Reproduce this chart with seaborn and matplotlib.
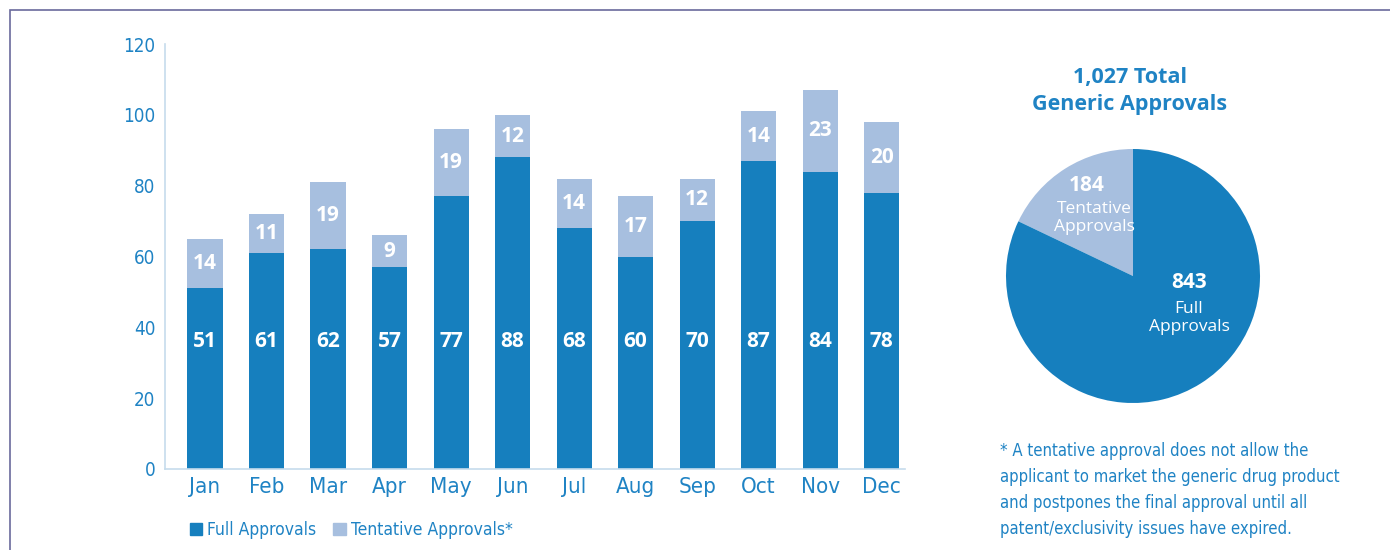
import matplotlib
matplotlib.use('Agg')
import matplotlib.pyplot as plt
import seaborn as sns
import pandas as pd
from matplotlib.patches import Patch, Rectangle

months = ['Jan', 'Feb', 'Mar', 'Apr', 'May', 'Jun', 'Jul', 'Aug', 'Sep', 'Oct', 'Nov', 'Dec']
full = [51, 61, 62, 57, 77, 88, 68, 60, 70, 87, 84, 78]
tentative = [14, 11, 19, 9, 19, 12, 14, 17, 12, 14, 23, 20]
yticks = [0, 20, 40, 60, 80, 100, 120]
pie_values = [184, 843]
pie_names = ['Tentative\nApprovals', 'Full\nApprovals']
title = '1,027 Total\nGeneric Approvals'
footnote = ('* A tentative approval does not allow the\n'
            'applicant to market the generic drug product\n'
            'and postpones the final approval until all\n'
            'patent/exclusivity issues have expired.')

DARK = '#167fbe'
LIGHT = '#a7bfdf'
TEXT = '#1f83c4'
AXIS = '#c6dcec'
BOLD = ['Open Sans', 'DejaVu Sans']

sns.set_theme(style='white')
plt.rcParams['font.family'] = ['DejaVu Sans']
plt.rcParams['font.stretch'] = 'condensed'

df = pd.DataFrame({'month': months, 'full': full, 'tentative': tentative})
df['total'] = df['full'] + df['tentative']

fig = plt.figure(figsize=(13.9, 5.5), dpi=100)

# frame line at top / left
fig.patches.append(Rectangle((10 / 1390, -0.1), 1.2, 1 - 10.5 / 550 + 0.1, transform=fig.transFigure,
                             fill=False, edgecolor='#6a6a9c', linewidth=1.2))

ax = fig.add_axes([165 / 1390, 1 - 469 / 550, (905 - 165) / 1390, (469 - 44) / 550])
sns.barplot(data=df, x='month', y='total', color=LIGHT, width=0.57, saturation=1, linewidth=0, ax=ax)
sns.barplot(data=df, x='month', y='full', color=DARK, width=0.57, saturation=1, linewidth=0, ax=ax)

for i, row in df.iterrows():
    ax.text(i, 36, str(row['full']), ha='center', va='center', color='white',
            fontsize=15, fontweight='bold', family=BOLD, stretch='normal')
    ax.text(i, row['full'] + row['tentative'] / 2, str(row['tentative']), ha='center', va='center',
            color='white', fontsize=15, fontweight='bold', family=BOLD, stretch='normal')

ax.set_ylim(0, 120)
ax.set_xlim(-0.65, 11.38)
ax.set_yticks(yticks)
ax.set_xlabel('')
ax.set_ylabel('')
for s in ['top', 'right']:
    ax.spines[s].set_visible(False)
for s in ['left', 'bottom']:
    ax.spines[s].set_color(AXIS)
    ax.spines[s].set_linewidth(1.2)
ax.tick_params(axis='y', labelsize=13.5, labelcolor=TEXT, length=0, pad=7)
ax.tick_params(axis='x', labelsize=16, labelcolor=TEXT, length=0, pad=6)
ax.grid(False)

fig.legend(handles=[Patch(color=DARK, label='Full Approvals'),
                    Patch(color=LIGHT, label='Tentative Approvals*')],
           loc='center left', bbox_to_anchor=(174 / 1390, 1 - 530 / 550), ncol=2, frameon=False,
           fontsize=12.5, handlelength=0.7, handleheight=0.7, handletextpad=0.3,
           columnspacing=1.0, labelcolor=TEXT)

# pie
pax = fig.add_axes([(1133 - 127) / 1390, 1 - (276 + 127) / 550, 254 / 1390, 254 / 550])
pax.pie(pie_values, colors=[LIGHT, DARK], startangle=90, counterclock=True,
        wedgeprops=dict(linewidth=0))
pax.set_aspect('equal')
pax.set_xlim(-1, 1)
pax.set_ylim(-1, 1)

fig.text(1087 / 1390, 1 - 185 / 550, str(pie_values[0]), ha='center', va='center', color='white',
         fontsize=15, fontweight='bold', family=BOLD, stretch='normal')
fig.text(1094 / 1390, 1 - 218 / 550, pie_names[0], ha='center', va='center', color='white',
         fontsize=12.5, linespacing=1.2, family=BOLD, stretch='normal')
fig.text(1189 / 1390, 1 - 283 / 550, str(pie_values[1]), ha='center', va='center', color='white',
         fontsize=15, fontweight='bold', family=BOLD, stretch='normal')
fig.text(1189 / 1390, 1 - 318 / 550, pie_names[1], ha='center', va='center', color='white',
         fontsize=12.5, linespacing=1.2, family=BOLD, stretch='normal')

fig.text(1130 / 1390, 1 - 91 / 550, title, ha='center', va='center', color=TEXT,
         fontsize=15.5, fontweight='bold', linespacing=1.35, family=BOLD, stretch='normal')

fig.text(1000 / 1390, 1 - 490 / 550, footnote, ha='left', va='center', color=TEXT,
         fontsize=12, linespacing=1.55)

fig.savefig('out.png', dpi=100)
